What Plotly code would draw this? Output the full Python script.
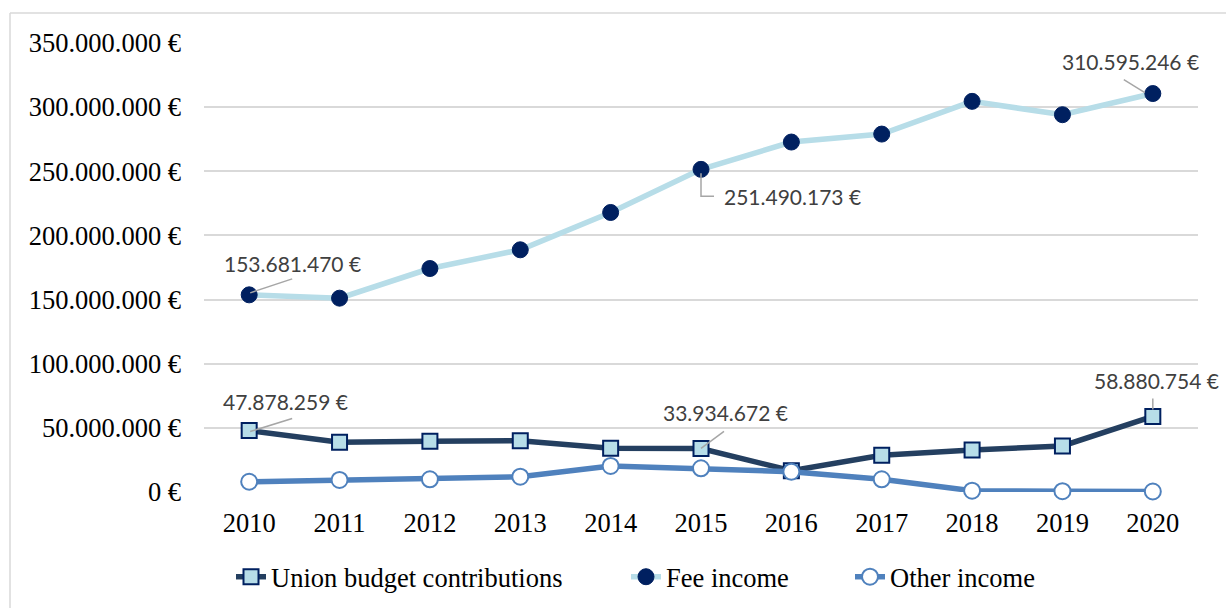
import plotly.graph_objects as go

years = ["2010", "2011", "2012", "2013", "2014", "2015", "2016", "2017", "2018", "2019", "2020"]
union_budget = [47878259, 38.8e6, 39.5e6, 40.0e6, 34.1e6, 33934672, 16.6e6, 28.6e6, 32.8e6, 35.9e6, 58880754]
fee_income = [153681470, 151.1e6, 174.2e6, 188.8e6, 217.9e6, 251490173, 272.8e6, 279.0e6, 304.5e6, 294.1e6, 310595246]
other_income = [8.0e6, 9.4e6, 9.9e6, 11.9e6, 20.3e6, 18.5e6, 15.8e6, 9.9e6, 1.0e6, 0.6e6, 0.4e6]
y_ticks = [0, 50e6, 100e6, 150e6, 200e6, 250e6, 300e6, 350e6]
y_tick_text = ["0 €", "50.000.000 €", "100.000.000 €", "150.000.000 €", "200.000.000 €",
               "250.000.000 €", "300.000.000 €", "350.000.000 €"]

xi = list(range(len(years)))  # category positions on the x axis

W, H = 1226, 608
ML, MR, MT, MB = 204, 28, 43, 116
PW, PH = W - ML - MR, H - MT - MB

SERIF = "Liberation Serif, Times New Roman, serif"
FS = 26.5
LABEL_FONT = dict(family="Lato, Noto Sans, sans-serif", size=21, color="#404040")

fig = go.Figure()
fig.add_trace(go.Scatter(
    x=xi, y=union_budget, name="Union budget contributions", mode="lines+markers",
    line=dict(color="#243F60", width=5.5), legend="legend", cliponaxis=False,
    marker=dict(symbol="square", size=15, color="#B7DDE8", line=dict(color="#002060", width=2)),
))
fig.add_trace(go.Scatter(
    x=xi, y=fee_income, name="Fee income", mode="lines+markers",
    line=dict(color="#B7DDE8", width=5.5), legend="legend2", cliponaxis=False,
    marker=dict(symbol="circle", size=16, color="#002060", line=dict(color="#002060", width=1)),
))
fig.add_trace(go.Scatter(
    x=xi, y=other_income, name="Other income", mode="lines+markers",
    line=dict(color="#4F81BD", width=5.5), legend="legend3", cliponaxis=False,
    marker=dict(symbol="circle", size=16, color="#FFFFFF", line=dict(color="#4F81BD", width=2)),
))

def fmt(v):
    return f"{int(round(v)):,}".replace(",", ".") + " €"

# (series, index, label xshift, label yshift, leader path in pixel offsets from point)
callouts = [
    (fee_income, 0, 43, 31, "M1,2 L43,16"),
    (fee_income, 5, 91, -27, "M0,-4 L0,-27 L13,-27"),
    (fee_income, 10, -22, 32, "M-29,14 L-8,1"),
    (union_budget, 0, 36, 29, "M1,-1 L43,12"),
    (union_budget, 5, 24, 36, "M0,0 L23,17"),
    (union_budget, 10, 4, 36, "M0,7 L0,18"),
]
for series, i, xs, ys, path in callouts:
    fig.add_annotation(x=xi[i], y=series[i], xref="x", yref="y", text=fmt(series[i]),
                       showarrow=False, xshift=xs, yshift=ys, font=LABEL_FONT)
    fig.add_shape(type="path", xref="x", yref="y", xsizemode="pixel", ysizemode="pixel",
                  xanchor=xi[i], yanchor=series[i], path=path,
                  line=dict(color="#A6A6A6", width=1.5), layer="above")

# outer chart frame (light gray), partially cropped in the reference
fx = (10 - ML) / PW
fy = (H - MB - 13) / PH
fig.add_shape(type="line", xref="paper", yref="paper", x0=fx, x1=(W - ML) / PW + 0.01, y0=fy, y1=fy,
              line=dict(color="#D9D9D9", width=1.5))
fig.add_shape(type="line", xref="paper", yref="paper", x0=fx, x1=fx, y0=fy, y1=-(MB + 5) / PH,
              line=dict(color="#D9D9D9", width=1.5))

def legend_at(text_left_px):
    return dict(orientation="h", x=(text_left_px - 42 - ML) / PW, xanchor="left",
                y=(H - MB - 577) / PH, yanchor="middle",
                font=dict(family=SERIF, size=FS, color="#000000"),
                bgcolor="rgba(0,0,0,0)", borderwidth=0)

fig.update_layout(
    width=W, height=H, margin=dict(l=ML, r=MR, t=MT, b=MB, autoexpand=False),
    paper_bgcolor="white", plot_bgcolor="white",
    font=dict(family=SERIF, size=FS, color="#000000"),
    showlegend=True,
    legend=legend_at(273),
    legend2=legend_at(668),
    legend3=legend_at(892),
    xaxis=dict(range=[-0.5, 10.5], tickvals=xi, ticktext=years, showgrid=False, zeroline=False,
               showline=False, tickfont=dict(family=SERIF, size=FS), ticks="", ticklabelstandoff=12,
               automargin=False),
    yaxis=dict(range=[0, 350e6], tickvals=y_ticks, ticktext=y_tick_text, showgrid=True,
               gridcolor="#D9D9D9", gridwidth=1.5, zeroline=False, showline=False,
               tickfont=dict(family=SERIF, size=FS), ticks="", ticklabelstandoff=22,
               automargin=False),
)

fig.write_html("out.html", config={"displayModeBar": False},
               post_script="document.body.style.margin='0px';")
